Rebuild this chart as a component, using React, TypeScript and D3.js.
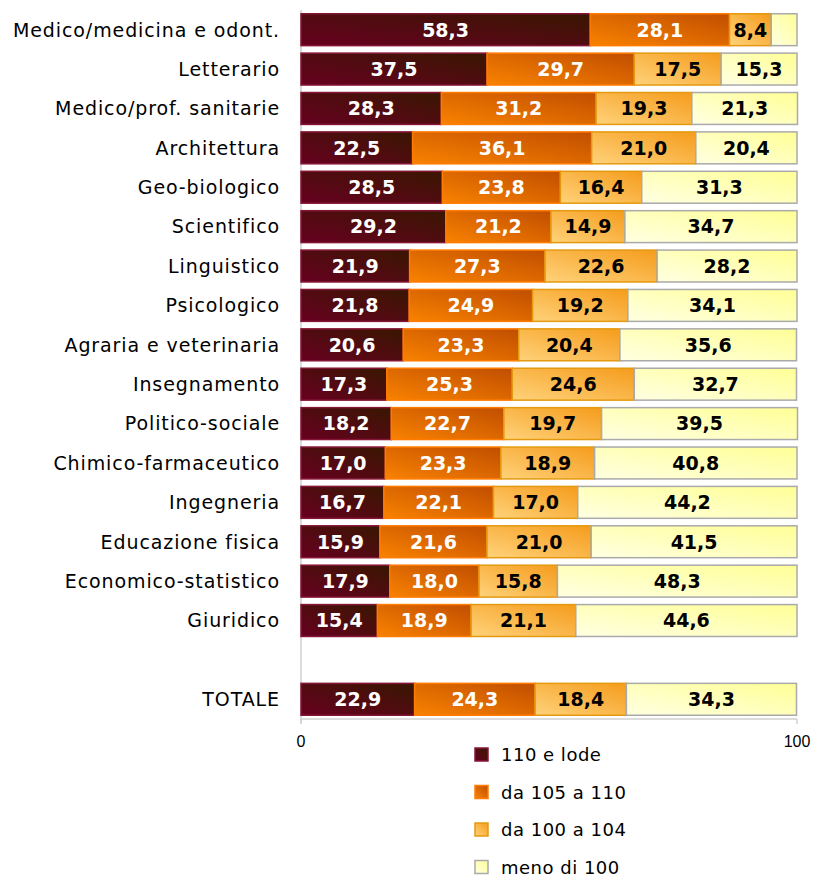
import { scaleBand, scaleLinear } from "d3";

const categories = [
  "Medico/medicina e odont.",
  "Letterario",
  "Medico/prof. sanitarie",
  "Architettura",
  "Geo-biologico",
  "Scientifico",
  "Linguistico",
  "Psicologico",
  "Agraria e veterinaria",
  "Insegnamento",
  "Politico-sociale",
  "Chimico-farmaceutico",
  "Ingegneria",
  "Educazione fisica",
  "Economico-statistico",
  "Giuridico",
  "",
  "TOTALE",
];

const lode = [58.3, 37.5, 28.3, 22.5, 28.5, 29.2, 21.9, 21.8, 20.6, 17.3, 18.2, 17.0, 16.7, 15.9, 17.9, 15.4, null, 22.9];
const da105 = [28.1, 29.7, 31.2, 36.1, 23.8, 21.2, 27.3, 24.9, 23.3, 25.3, 22.7, 23.3, 22.1, 21.6, 18.0, 18.9, null, 24.3];
const da100 = [8.4, 17.5, 19.3, 21.0, 16.4, 14.9, 22.6, 19.2, 20.4, 24.6, 19.7, 18.9, 17.0, 21.0, 15.8, 21.1, null, 18.4];
const meno100 = [5.2, 15.3, 21.3, 20.4, 31.3, 34.7, 28.2, 34.1, 35.6, 32.7, 39.5, 40.8, 44.2, 41.5, 48.3, 44.6, null, 34.3];
// the first row's last segment is too narrow to carry a label
const hideLabel = [[false, false, false, true]];

const seriesNames = ["110 e lode", "da 105 a 110", "da 100 a 104", "meno di 100"];
const xTicks = [0, 100];

const gradients = [
  { id: "g0", from: "#680020", to: "#381700", stroke: "#861636", text: "#ffffff" },
  { id: "g1", from: "#f98200", to: "#c04e00", stroke: "#ff7c00", text: "#ffffff" },
  { id: "g2", from: "#ffd27a", to: "#f59c1c", stroke: "#e49a10", text: "#000000" },
  { id: "g3", from: "#ffffe2", to: "#ffff96", stroke: "#aaaaaa", text: "#000000" },
];

const W = 819;
const H = 877;
const M = { left: 301, right: 22, top: 10, bottom: 158 };
const FONT = "DejaVu Sans, Verdana, sans-serif";

const fmt = (v: number) => v.toFixed(1).replace(".", ",");

export default function App() {
  const x = scaleLinear().domain([0, 100]).range([M.left, W - M.right]);
  const y = scaleBand<string>()
    .domain(categories.map((c, i) => `${i}`))
    .range([M.top, H - M.bottom])
    .paddingInner(0.19)
    .paddingOuter(0.095);
  const series = [lode, da105, da100, meno100];
  const bw = y.bandwidth();
  const axisY = H - M.bottom;

  return (
    <svg width={W} height={H} style={{ position: "absolute", left: 0, top: 0, background: "#fff" }}>
      <defs>
        {gradients.map((g) => (
          <linearGradient key={g.id} id={g.id} x1="0" y1="1" x2="1" y2="0">
            <stop offset="0%" stopColor={g.from} />
            <stop offset="100%" stopColor={g.to} />
          </linearGradient>
        ))}
      </defs>

      {/* axes */}
      <line x1={x(0)} x2={x(0)} y1={M.top} y2={axisY + 4} stroke="#d0d0d0" strokeWidth={1.5} />
      <line x1={x(0)} x2={x(100)} y1={axisY} y2={axisY} stroke="#d0d0d0" strokeWidth={1.5} />
      {xTicks.map((t) => (
        <g key={t}>
          <line x1={x(t)} x2={x(t)} y1={axisY} y2={axisY + 5} stroke="#d0d0d0" strokeWidth={1.5} />
          <text x={x(t)} y={axisY + 28} textAnchor="middle" fontFamily="Liberation Sans, Arial, sans-serif" fontSize={16} fill="#000">
            {t}
          </text>
        </g>
      ))}

      {/* category labels */}
      {categories.map((c, i) => (
        <text
          key={c + i}
          x={280}
          y={(y(`${i}`) ?? 0) + bw / 2}
          dy="0.36em"
          textAnchor="end"
          fontFamily={FONT}
          fontSize={19}
          letterSpacing={0.9}
          fill="#000"
        >
          {c}
        </text>
      ))}

      {/* bars */}
      {categories.map((c, i) => {
        if (lode[i] == null) return null;
        let acc = 0;
        const top = y(`${i}`) ?? 0;
        return (
          <g key={"bar" + i}>
            {series.map((s, k) => {
              const v = s[i] as number;
              const x0 = x(acc);
              acc += v;
              const x1 = x(acc);
              const hide = hideLabel[i]?.[k];
              return (
                <g key={k}>
                  <rect
                    x={x0}
                    y={top}
                    width={x1 - x0}
                    height={bw}
                    fill={`url(#${gradients[k].id})`}
                    stroke={gradients[k].stroke}
                    strokeWidth={1.5}
                  />
                  {!hide && (
                    <text
                      x={(x0 + x1) / 2}
                      y={top + bw / 2}
                      dy="0.36em"
                      textAnchor="middle"
                      fontFamily={FONT}
                      fontWeight="bold"
                      fontSize={19}
                      fill={gradients[k].text}
                    >
                      {fmt(v)}
                    </text>
                  )}
                </g>
              );
            })}
          </g>
        );
      })}

      {/* legend */}
      {seriesNames.map((n, k) => {
        const ly = 755 + k * 37.5;
        return (
          <g key={n}>
            <rect
              x={475}
              y={ly - 7}
              width={13}
              height={13}
              fill={`url(#${gradients[k].id})`}
              stroke={gradients[k].stroke}
              strokeWidth={1.5}
            />
            <text x={501} y={ly} dy="0.36em" fontFamily={FONT} fontSize={18} letterSpacing={0.5} fill="#000">
              {n}
            </text>
          </g>
        );
      })}
    </svg>
  );
}
